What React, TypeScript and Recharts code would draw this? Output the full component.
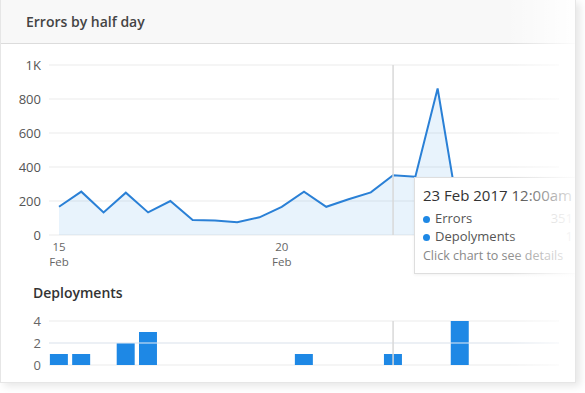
import React from 'react'
import {
  ComposedChart,
  Area,
  Bar,
  XAxis,
  YAxis,
  CartesianGrid,
  Tooltip,
  ReferenceLine
} from 'recharts'

// one slot per half day, starting 15 Feb
const slotLabels = [
  '15 Feb 2017 12:00pm', '16 Feb 2017 12:00am', '16 Feb 2017 12:00pm', '17 Feb 2017 12:00am',
  '17 Feb 2017 12:00pm', '18 Feb 2017 12:00am', '18 Feb 2017 12:00pm', '19 Feb 2017 12:00am',
  '19 Feb 2017 12:00pm', '20 Feb 2017 12:00am', '20 Feb 2017 12:00pm', '21 Feb 2017 12:00am',
  '21 Feb 2017 12:00pm', '22 Feb 2017 12:00am', '22 Feb 2017 12:00pm', '23 Feb 2017 12:00am',
  '23 Feb 2017 12:00pm', '24 Feb 2017 12:00am', '24 Feb 2017 12:00pm', '25 Feb 2017 12:00am',
  '25 Feb 2017 12:00pm', '26 Feb 2017 12:00am', '26 Feb 2017 12:00pm'
]
const errors = [166, 255, 133, 249, 133, 200, 88, 86, 75, 104, 166, 255, 166, 210, 251, 351, 343, 862, 80, 140, 120, 110, 95]
const deployments = [1, 1, 0, 2, 3, 0, 0, 0, 0, 0, 0, 1, 0, 0, 0, 1, 0, 0, 4, 0, 0, 0, 0]

// the 25 Feb label sits under the tooltip, so only the visible ones are listed
const dayTicks = [0, 10]
const dayTickLabels = [['15', 'Feb'], ['20', 'Feb']]
const errorTicks = [0, 200, 400, 600, 800, 1000]
const deployTicks = [0, 2, 4]

const activeSlot = 15

const data = slotLabels.map((label, i) => ({
  idx: i,
  label,
  errors: errors[i],
  deployments: deployments[i]
}))

const BLUE = '#1e88e5'
const LINE = '#2a80d6'
const GRID = '#ebebeb'
const xDomain = [-0.45, slotLabels.length - 0.55]

const DayTick = (props: any) => {
  const { x, y, payload } = props
  const lines = dayTickLabels[dayTicks.indexOf(payload.value)] || []
  return (
    <g>
      <text x={x} y={y + 8} textAnchor="middle" fill="#666" fontSize={11.5}>{lines[0]}</text>
      <text x={x} y={y + 23} textAnchor="middle" fill="#666" fontSize={11.5}>{lines[1]}</text>
    </g>
  )
}

const TooltipBox = ({ active, payload }: any) => {
  if (!active || !payload || !payload.length) return null
  const row = payload[0].payload
  const dot = { width: 7, height: 7, borderRadius: 4, background: BLUE, display: 'inline-block', marginRight: 5 }
  const line = { display: 'flex', alignItems: 'center', justifyContent: 'space-between', height: 18, fontSize: 13, color: '#555' }
  return (
    <div style={{
      width: 150,
      background: '#fff',
      border: '1px solid #dedede',
      padding: '7px 8px 9px 8px',
      fontFamily: '"Open Sans", sans-serif',
      boxShadow: '0 1px 3px rgba(0,0,0,0.06)'
    }}>
      <div style={{ fontSize: 15, color: '#333', marginBottom: 4, whiteSpace: 'nowrap' }}>{row.label}</div>
      <div style={line}>
        <span><span style={dot} />Errors</span>
        <span style={{ color: '#bbb' }}>{row.errors}</span>
      </div>
      <div style={line}>
        <span><span style={dot} />Depolyments</span>
        <span style={{ color: '#bbb' }}>{row.deployments}</span>
      </div>
      <div style={{ fontSize: 12.5, color: '#888', marginTop: 2 }}>Click chart to see details</div>
    </div>
  )
}

export default function App() {
  return (
    <div style={{ position: 'absolute', left: 0, top: 0, width: 585, height: 393, background: '#fff', fontFamily: '"Open Sans", sans-serif' }}>
      <div style={{
        position: 'absolute', left: 0, top: 0, width: 574, height: 382,
        background: '#fff', border: '1px solid #e6e6e6', borderTop: 'none',
        boxShadow: '4px 3px 8px rgba(0,0,0,0.10)', overflow: 'hidden'
      }}>
        <div style={{
          height: 44, background: '#f8f8f8', borderBottom: '1px solid #dcdcdc',
          boxSizing: 'border-box', paddingLeft: 25, lineHeight: '43px',
          fontSize: 14, fontWeight: 600, color: '#444'
        }}>
          Errors by half day
        </div>

        <div style={{ position: 'absolute', left: 0, top: 55 }}>
          <ComposedChart width={575} height={220} data={data} margin={{ top: 10, right: 17, left: 0, bottom: 0 }}>
            <CartesianGrid vertical={false} stroke={GRID} />
            <XAxis
              dataKey="idx"
              type="number"
              domain={xDomain}
              ticks={dayTicks}
              tick={<DayTick />}
              tickLine={false}
              axisLine={false}
              height={40}
              interval={0}
            />
            <YAxis
              domain={[0, 1000]}
              ticks={errorTicks}
              tickFormatter={(v: number) => (v >= 1000 ? `${v / 1000}K` : `${v}`)}
              tick={{ fontSize: 13, fill: '#555' }}
              tickLine={false}
              axisLine={false}
              width={48}
              interval={0}
            />
            <Tooltip
              defaultIndex={activeSlot}
              content={<TooltipBox />}
              position={{ x: 413, y: 122 }}
              cursor={{ stroke: '#d9d9d9', strokeWidth: 1.5 }}
              isAnimationActive={false}
              allowEscapeViewBox={{ x: true, y: true }}
            />
            <Area
              type="linear"
              dataKey="errors"
              stroke={LINE}
              strokeWidth={2}
              fill={BLUE}
              fillOpacity={0.1}
              dot={false}
              activeDot={false}
              isAnimationActive={false}
            />
          </ComposedChart>
        </div>

        <div style={{ position: 'absolute', left: 32, top: 283, fontSize: 14, fontWeight: 600, color: '#333' }}>
          Deployments
        </div>

        <div style={{ position: 'absolute', left: 0, top: 310 }}>
          <ComposedChart width={575} height={68} data={data} margin={{ top: 11, right: 17, left: 0, bottom: 13 }}>
            <CartesianGrid vertical={false} stroke={GRID} />
            <XAxis dataKey="idx" type="number" domain={xDomain} hide />
            <YAxis
              domain={[0, 4]}
              ticks={deployTicks}
              tick={{ fontSize: 13, fill: '#666' }}
              tickLine={false}
              axisLine={false}
              width={48}
              interval={0}
            />
            <Tooltip
              defaultIndex={activeSlot}
              content={() => null}
              cursor={{ stroke: '#d9d9d9', strokeWidth: 1.5 }}
              isAnimationActive={false}
            />
            <Bar dataKey="deployments" fill={BLUE} barSize={18} isAnimationActive={false} />
            <ReferenceLine y={2} stroke="#e4ecf5" strokeWidth={1.2} />
          </ComposedChart>
        </div>

        <div style={{
          position: 'absolute', left: 505, top: 0, width: 70, height: 383, zIndex: 20,
          background: 'linear-gradient(to right, rgba(255,255,255,0), rgba(255,255,255,0.92))',
          pointerEvents: 'none'
        }} />
      </div>
    </div>
  )
}
